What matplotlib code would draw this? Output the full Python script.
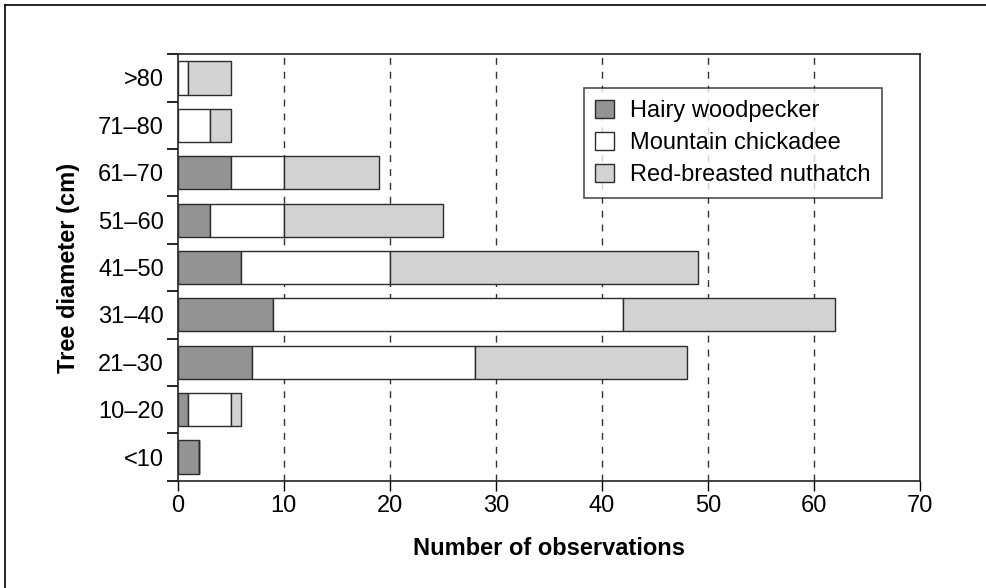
import matplotlib
matplotlib.use("Agg")
import matplotlib.pyplot as plt
from matplotlib.lines import Line2D
import numpy as np

plt.rcParams['font.family'] = ['Liberation Sans', 'DejaVu Sans']

categories = ['<10', '10–20', '21–30', '31–40', '41–50', '51–60', '61–70', '71–80', '>80']
hairy = [2, 1, 7, 9, 6, 3, 5, 0, 0]
chickadee = [0, 4, 21, 33, 14, 7, 5, 3, 1]
nuthatch = [0, 1, 20, 20, 29, 15, 9, 2, 4]
series_names = ['Hairy woodpecker', 'Mountain chickadee', 'Red-breasted nuthatch']
colors = ['#939393', '#ffffff', '#d1d2d4']

fig = plt.figure(figsize=(9.87, 5.88), dpi=100)
ax = fig.add_axes([177.7 / 987, 1 - 480.7 / 588, (920.3 - 177.7) / 987, (480.7 - 54.3) / 588])

y = np.arange(len(categories))
left = np.zeros(len(categories))
for vals, name, col in zip([hairy, chickadee, nuthatch], series_names, colors):
    vals = np.array(vals, dtype=float)
    ax.barh(y, vals, left=left, height=0.7, color=col, edgecolor='#2b2b2b',
            linewidth=1.0, label=name, zorder=3)
    left += vals

ax.set_xlim(0, 70)
ax.set_ylim(-0.5, len(categories) - 0.5)
ax.set_xticks(np.arange(0, 71, 10))
ax.set_yticks(y)
ax.set_yticklabels(categories)
ax.set_yticks(np.arange(-0.5, len(categories), 1), minor=True)
ax.tick_params(axis='y', which='major', length=0, pad=10, labelsize=17)
ax.tick_params(axis='y', which='minor', length=8, width=1.2, direction='out')
ax.tick_params(axis='x', which='major', length=7, width=1.0, direction='out', labelsize=17, pad=3)

for xv in range(10, 70, 10):
    ax.axvline(xv, color='#333333', linestyle=(0, (5, 5)), linewidth=1.0, zorder=1)

for s in ax.spines.values():
    s.set_linewidth(1.2)
    s.set_color('#222222')

ax.set_xlabel('Number of observations', fontsize=17, fontweight='bold', labelpad=15)
ax.set_ylabel('Tree diameter (cm)', fontsize=17, fontweight='bold', labelpad=13)

leg = ax.legend(loc='upper right', bbox_to_anchor=(882 / 987, 1 - 88 / 588),
                bbox_transform=fig.transFigure, fontsize=17, frameon=True,
                fancybox=False, edgecolor='#222222', handlelength=0.8,
                handleheight=0.8, handletextpad=0.65, borderpad=0.5,
                labelspacing=0.42, borderaxespad=0)
leg.get_frame().set_linewidth(1.2)

# outer frame
fig.add_artist(Line2D([5 / 987, 1], [1 - 4.7 / 588, 1 - 4.7 / 588],
                      transform=fig.transFigure, color='black', linewidth=1.2))
fig.add_artist(Line2D([5 / 987, 5 / 987], [0, 1 - 4.7 / 588],
                      transform=fig.transFigure, color='black', linewidth=1.2))

fig.savefig('out.png', dpi=100)
